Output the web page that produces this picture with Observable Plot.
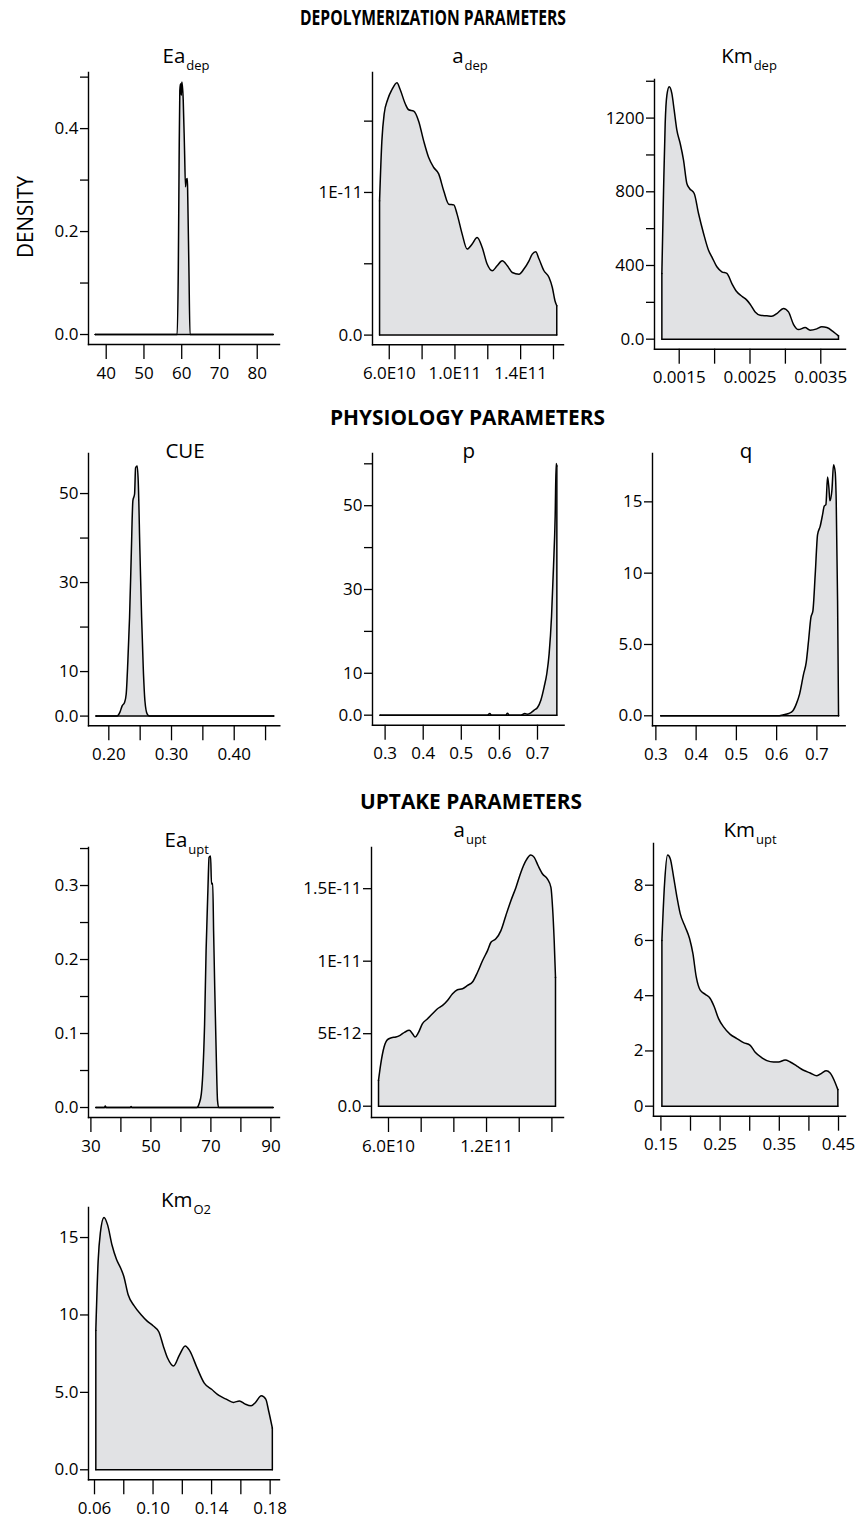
<!DOCTYPE html>
<html>
<head>
<meta charset="utf-8">
<script src="https://cdn.jsdelivr.net/npm/d3@7"></script>
<script src="https://cdn.jsdelivr.net/npm/@observablehq/plot@0.6"></script>
<style>
  body { margin: 0; background: #fff; }
  #root { position: relative; width: 864px; height: 1519px; overflow: hidden; font-family: "Open Sans", sans-serif; }
  #root svg.panel { position: absolute; overflow: visible; }
  #overlay { position: absolute; left: 0; top: 0; pointer-events: none; }
</style>
</head>
<body>
<div id="root"></div>
<script>
// ---------------- DATA ----------------
// Ea_dep
const eaDepX = [37.1, 58.8, 59.1, 59.3, 59.5, 59.7, 59.9, 60.0, 60.1, 60.4, 60.75, 61.0, 61.2, 61.5, 61.6, 61.9, 62.2, 84.2];
const eaDepY = [0, 0, 0.13, 0.325, 0.474, 0.487, 0.465, 0.49, 0.49, 0.455, 0.358, 0.287, 0.30, 0.303, 0.267, 0.131, 0, 0];
const eaDepXTicks = [40, 50, 60, 70, 80];
const eaDepXLabels = ["40", "50", "60", "70", "80"];
const eaDepYTicks = [0, 0.1, 0.2, 0.3, 0.4, 0.5];
const eaDepYLabels = ["0.0", "", "0.2", "", "0.4", ""];

// a_dep
const aDepX = [5.41e10, 5.55e10, 5.69e10, 5.90e10, 6.16e10, 6.47e10, 6.67e10, 6.98e10, 7.18e10, 7.49e10, 7.79e10, 8.10e10, 8.40e10, 8.71e10, 9.01e10, 9.32e10, 9.62e10, 9.93e10, 10.13e10, 10.44e10, 10.74e10, 11.05e10, 11.35e10, 11.66e10, 11.96e10, 12.27e10, 12.57e10, 12.88e10, 13.19e10, 13.49e10, 13.90e10, 14.20e10, 14.51e10, 14.71e10, 14.92e10, 15.12e10, 15.42e10, 15.73e10, 15.93e10, 16.09e10, 16.20e10];
const aDepY = [9.41e-12, 13.6e-12, 15.5e-12, 16.5e-12, 17.2e-12, 17.7e-12, 17.2e-12, 16.2e-12, 15.8e-12, 15.7e-12, 15.0e-12, 13.6e-12, 12.45e-12, 11.75e-12, 11.3e-12, 10.1e-12, 9.18e-12, 9.13e-12, 8.48e-12, 7.08e-12, 6.03e-12, 6.38e-12, 6.84e-12, 6.14e-12, 4.98e-12, 4.51e-12, 4.86e-12, 5.21e-12, 4.86e-12, 4.39e-12, 4.27e-12, 4.63e-12, 5.21e-12, 5.68e-12, 5.84e-12, 5.33e-12, 4.51e-12, 4.04e-12, 3.34e-12, 2.41e-12, 2.06e-12];
const aDepXTicks = [6e10, 8e10, 1.0e11, 1.2e11, 1.4e11, 1.6e11];
const aDepXLabels = ["6.0E10", "", "1.0E11", "", "1.4E11", ""];
const aDepYTicks = [0, 5e-12, 1e-11, 1.5e-11];
const aDepYLabels = ["0.0", "", "1E-11", ""];

// Km_dep
const kmDepX = [0.001255, 0.001279, 0.001302, 0.001326, 0.001359, 0.001396, 0.001429, 0.001467, 0.001514, 0.001561, 0.001608, 0.001646, 0.001712, 0.001773, 0.001844, 0.001914, 0.001961, 0.002032, 0.002102, 0.002173, 0.002244, 0.002314, 0.002385, 0.002455, 0.002502, 0.002573, 0.002644, 0.002738, 0.002808, 0.002879, 0.002973, 0.003044, 0.003114, 0.003185, 0.003279, 0.003349, 0.003444, 0.003514, 0.003585, 0.003679, 0.003750];
const kmDepY = [357, 809, 1171, 1325, 1370, 1334, 1243, 1135, 1062, 972, 845, 818, 791, 682, 574, 483, 447, 393, 366, 357, 302, 257, 233, 212, 190, 148, 130, 127, 125, 139, 167, 148, 81, 52, 63, 49, 56, 67, 63, 40, 18];
const kmDepXTicks = [0.0015, 0.0020, 0.0025, 0.0030, 0.0035];
const kmDepXLabels = ["0.0015", "", "0.0025", "", "0.0035"];
const kmDepYTicks = [0, 200, 400, 600, 800, 1000, 1200, 1400];
const kmDepYLabels = ["0.0", "", "400", "", "800", "", "1200", ""];

// CUE
const cueX = [0.1797, 0.2133, 0.2176, 0.2213, 0.2251, 0.2277, 0.2304, 0.2331, 0.2357, 0.2384, 0.2411, 0.2427, 0.2453, 0.2469, 0.2496, 0.2523, 0.2549, 0.2576, 0.2613, 0.265, 0.4629];
const cueY = [0, 0, 0.82, 2.3, 3.07, 4.9, 12.4, 22.2, 35.6, 48.4, 49.9, 55.8, 56.2, 52.8, 37.1, 22.2, 10.9, 3.4, 0.45, 0, 0];
const cueXTicks = [0.20, 0.25, 0.30, 0.35, 0.40, 0.45];
const cueXLabels = ["0.20", "", "0.30", "", "0.40", ""];
const cueYTicks = [0, 10, 20, 30, 40, 50];
const cueYLabels = ["0.0", "10", "", "30", "", "50"];

// p
const pX = [0.2869, 0.5687, 0.5748, 0.5792, 0.6169, 0.6212, 0.6256, 0.6562, 0.6667, 0.6737, 0.6825, 0.6912, 0.7, 0.7088, 0.7175, 0.7245, 0.7306, 0.7368, 0.742, 0.7464, 0.749, 0.7508];
const pY = [0, 0, 0.4, 0, 0, 0.48, 0, 0, 0.4, 0.24, 0.56, 1.2, 1.83, 3.58, 6.77, 9.95, 14.7, 23.5, 35.4, 47.4, 60.1, 59.5];
const pXTicks = [0.3, 0.4, 0.5, 0.6, 0.7];
const pXLabels = ["0.3", "0.4", "0.5", "0.6", "0.7"];
const pYTicks = [0, 10, 20, 30, 40, 50, 60];
const pYLabels = ["0.0", "10", "", "30", "", "50", ""];

// q
const qX = [0.3124, 0.6006, 0.6172, 0.6296, 0.6404, 0.6487, 0.657, 0.6669, 0.6735, 0.6793, 0.6851, 0.6901, 0.6959, 0.7017, 0.7083, 0.7141, 0.7182, 0.7224, 0.7265, 0.7298, 0.7323, 0.7373, 0.7414, 0.7456, 0.748, 0.7514, 0.7538];
const qY = [0, 0, 0.07, 0.16, 0.35, 0.82, 1.52, 2.92, 3.74, 5.26, 6.89, 7.36, 9.93, 12.7, 13.3, 14.1, 14.7, 14.8, 16.75, 16.0, 15.07, 15.8, 17.6, 17.05, 15.07, 8.06, 0];
const qXTicks = [0.3, 0.4, 0.5, 0.6, 0.7];
const qXLabels = ["0.3", "0.4", "0.5", "0.6", "0.7"];
const qYTicks = [0, 5, 10, 15];
const qYLabels = ["0.0", "5.0", "10", "15"];

// Ea_upt
const eaUptX = [31.67, 34.5, 34.8, 35.1, 43.1, 43.4, 43.7, 65.3, 66.1, 66.8, 67.3, 67.9, 68.4, 69.0, 69.4, 69.9, 70.2, 70.6, 70.9, 71.3, 71.8, 72.2, 72.6, 90.7];
const eaUptY = [0, 0, 0.002, 0, 0, 0.0013, 0, 0, 0.0054, 0.018, 0.046, 0.113, 0.212, 0.293, 0.338, 0.34, 0.302, 0.303, 0.239, 0.158, 0.068, 0.0099, 0, 0];
const eaUptXTicks = [30, 40, 50, 60, 70, 80, 90];
const eaUptXLabels = ["30", "", "50", "", "70", "", "90"];
const eaUptYTicks = [0, 0.05, 0.1, 0.15, 0.2, 0.25, 0.3, 0.35];
const eaUptYLabels = ["0.0", "", "0.1", "", "0.2", "", "0.3", ""];

// a_upt
const aUptX = [5.39e10, 5.53e10, 5.73e10, 5.94e10, 6.18e10, 6.45e10, 6.71e10, 7.0e10, 7.27e10, 7.47e10, 7.63e10, 7.82e10, 8.08e10, 8.39e10, 8.69e10, 9.0e10, 9.31e10, 9.61e10, 9.92e10, 10.22e10, 10.53e10, 10.84e10, 11.14e10, 11.45e10, 11.76e10, 12.06e10, 12.27e10, 12.57e10, 12.88e10, 13.18e10, 13.49e10, 13.80e10, 14.10e10, 14.41e10, 14.71e10, 14.92e10, 15.16e10, 15.43e10, 15.73e10, 15.94e10, 16.04e10, 16.14e10, 16.22e10];
const aUptY = [1.79e-12, 2.94e-12, 4.08e-12, 4.59e-12, 4.72e-12, 4.77e-12, 4.89e-12, 5.11e-12, 5.23e-12, 5.0e-12, 4.77e-12, 5.05e-12, 5.69e-12, 6.03e-12, 6.38e-12, 6.72e-12, 6.95e-12, 7.29e-12, 7.75e-12, 8.03e-12, 8.10e-12, 8.33e-12, 8.56e-12, 9.24e-12, 10.05e-12, 10.73e-12, 11.31e-12, 11.54e-12, 12.11e-12, 13.14e-12, 14.17e-12, 15.09e-12, 16.12e-12, 16.93e-12, 17.32e-12, 17.16e-12, 16.58e-12, 16.01e-12, 15.66e-12, 15.09e-12, 13.72e-12, 11.42e-12, 8.9e-12];
const aUptXTicks = [6e10, 8e10, 1.0e11, 1.2e11, 1.4e11, 1.6e11];
const aUptXLabels = ["6.0E10", "", "", "1.2E11", "", ""];
const aUptYTicks = [0, 5e-12, 1e-11, 1.5e-11];
const aUptYLabels = ["0.0", "5E-12", "1E-11", "1.5E-11"];

// Km_upt
const kmUptX = [0.1517, 0.1562, 0.1613, 0.1658, 0.1714, 0.177, 0.1826, 0.1911, 0.1984, 0.204, 0.2097, 0.2164, 0.2249, 0.2333, 0.2401, 0.2474, 0.2558, 0.2671, 0.2783, 0.2896, 0.3009, 0.3093, 0.3206, 0.329, 0.3403, 0.3487, 0.36, 0.3684, 0.3797, 0.3909, 0.4022, 0.4134, 0.4219, 0.4292, 0.4359, 0.4444, 0.4489];
const kmUptY = [6.0, 8.06, 9.09, 8.96, 8.3, 7.58, 6.97, 6.49, 6.07, 5.53, 4.68, 4.2, 4.05, 3.9, 3.6, 3.17, 2.87, 2.6, 2.45, 2.3, 2.2, 1.95, 1.75, 1.65, 1.6, 1.6, 1.67, 1.6, 1.45, 1.3, 1.2, 1.1, 1.2, 1.28, 1.2, 0.85, 0.6];
const kmUptXTicks = [0.15, 0.20, 0.25, 0.30, 0.35, 0.40, 0.45];
const kmUptXLabels = ["0.15", "", "0.25", "", "0.35", "", "0.45"];
const kmUptYTicks = [0, 2, 4, 6, 8];
const kmUptYLabels = ["0", "2", "4", "6", "8"];

// Km_O2
const kmO2X = [0.0609, 0.0625, 0.064, 0.0665, 0.069, 0.072, 0.075, 0.078, 0.08, 0.083, 0.087, 0.092, 0.096, 0.1, 0.104, 0.107, 0.11, 0.114, 0.118, 0.122, 0.125, 0.13, 0.135, 0.14, 0.145, 0.15, 0.155, 0.159, 0.163, 0.167, 0.17, 0.174, 0.177, 0.179, 0.1815];
const kmO2Y = [9.0, 13.5, 15.3, 16.3, 15.8, 14.5, 13.6, 13.0, 12.5, 11.3, 10.6, 10.0, 9.6, 9.3, 8.9, 8.0, 7.2, 6.7, 7.4, 8.0, 7.7, 6.6, 5.6, 5.2, 4.8, 4.56, 4.35, 4.45, 4.24, 4.13, 4.35, 4.78, 4.56, 3.8, 2.7];
const kmO2XTicks = [0.06, 0.08, 0.10, 0.12, 0.14, 0.16, 0.18];
const kmO2XLabels = ["0.06", "", "0.10", "", "0.14", "", "0.18"];
const kmO2YTicks = [0, 5, 10, 15];
const kmO2YLabels = ["0.0", "5.0", "10", "15"];

// Section headings and panel titles
const sections = ["DEPOLYMERIZATION PARAMETERS", "PHYSIOLOGY PARAMETERS", "UPTAKE PARAMETERS"];
const titleMain = ["Ea", "a", "Km", "CUE", "p", "q", "Ea", "a", "Km", "Km"];
const titleSub  = ["dep", "dep", "dep", "", "", "", "upt", "upt", "upt", "O2"];

// ---------------- LAYOUT ----------------
const FILL = "#e1e2e4";
const FONT = "'Open Sans', sans-serif";
const ML = 70, MR = 8, MT = 8, MB = 46;

const panels = [
  {x: eaDepX, y: eaDepY, xt: eaDepXTicks, xl: eaDepXLabels, yt: eaDepYTicks, yl: eaDepYLabels,
   L: 88, T: 72, B: 344, R: 279, xd: [35.31, 85.9], yd: [-0.0194, 0.509], tx: 186, ty: 62.5},
  {x: aDepX, y: aDepY, xt: aDepXTicks, xl: aDepXLabels, yt: aDepYTicks, yl: aDepYLabels,
   L: 372.3, T: 71.7, B: 344, R: 563.3, xd: [4.98e10, 1.661e11], yd: [-6.8e-13, 1.841e-11], tx: 470, ty: 62.5},
  {x: kmDepX, y: kmDepY, xt: kmDepXTicks, xl: kmDepXLabels, yt: kmDepYTicks, yl: kmDepYLabels,
   L: 654.3, T: 79.3, B: 349, R: 845.3, xd: [0.001151, 0.003849], yd: [-54.3, 1409.5], tx: 749, ty: 62.5},
  {x: cueX, y: cueY, xt: cueXTicks, xl: cueXLabels, yt: cueYTicks, yl: cueYLabels,
   L: 88, T: 452.7, B: 725, R: 279.3, xd: [0.1676, 0.4727], yd: [-2.18, 59.0], tx: 185, ty: 458},
  {x: pX, y: pY, xt: pXTicks, xl: pXLabels, yt: pYTicks, yl: pYLabels,
   L: 371.7, T: 453.3, B: 725, R: 563.3, xd: [0.2669, 0.7698], yd: [-2.39, 62.46], tx: 468.7, ty: 458},
  {x: qX, y: qY, xt: qXTicks, xl: qXLabels, yt: qYTicks, yl: qYLabels,
   L: 652.3, T: 452.7, B: 725, R: 845, xd: [0.2916, 0.7703], yd: [-0.70, 18.39], tx: 746, ty: 458},
  {x: eaUptX, y: eaUptY, xt: eaUptXTicks, xl: eaUptXLabels, yt: eaUptYTicks, yl: eaUptYLabels,
   L: 88.3, T: 847.3, B: 1117.3, R: 279.3, xd: [29.2, 92.87], yd: [-0.0135, 0.3514], tx: 186.7, ty: 846.5},
  {x: aUptX, y: aUptY, xt: aUptXTicks, xl: aUptXLabels, yt: aUptYTicks, yl: aUptYLabels,
   L: 370.7, T: 847.3, B: 1117.3, R: 562.7, xd: [4.96e10, 1.671e11], yd: [-7.79e-13, 1.784e-11], tx: 470, ty: 837},
  {x: kmUptX, y: kmUptY, xt: kmUptXTicks, xl: kmUptXLabels, yt: kmUptYTicks, yl: kmUptYLabels,
   L: 653.3, T: 843.3, B: 1116, R: 845.3, xd: [0.1375, 0.4618], yd: [-0.362, 9.51], tx: 750, ty: 837},
  {x: kmO2X, y: kmO2Y, xt: kmO2XTicks, xl: kmO2XLabels, yt: kmO2YTicks, yl: kmO2YLabels,
   L: 88.3, T: 1206.7, B: 1479, R: 279.3, xd: [0.0559, 0.1864], yd: [-0.646, 16.94], tx: 186, ty: 1207}
];

const root = document.getElementById("root");

function labelFormat(ticks, labels) {
  const m = new Map(ticks.map((t, i) => [t, labels[i]]));
  return d => m.get(d) ?? "";
}

panels.forEach((p) => {
  const pts = p.x.map((x, i) => ({x, y: p.y[i]}));
  const n = pts.length;
  // vertical end edges and the baseline of the closed density outline
  const edges = [
    {x: pts[0].x, y: 0, g: 0}, {x: pts[0].x, y: pts[0].y, g: 0},
    {x: pts[n - 1].x, y: pts[n - 1].y, g: 1}, {x: pts[n - 1].x, y: 0, g: 1},
    {x: pts[0].x, y: 0, g: 2}, {x: pts[n - 1].x, y: 0, g: 2}
  ];
  const width = ML + (p.R - p.L) + MR;
  const height = MT + (p.B - p.T) + MB;
  const svg = Plot.plot({
    width, height,
    marginLeft: ML, marginRight: MR, marginTop: MT, marginBottom: MB,
    x: {domain: p.xd},
    y: {domain: p.yd},
    style: {fontFamily: FONT, fontSize: "17px", color: "black", background: "transparent", overflow: "visible"},
    marks: [
      Plot.areaY(pts, {x: "x", y: "y", fill: FILL, curve: "monotone-x"}),
      Plot.line(pts, {x: "x", y: "y", stroke: "black", strokeWidth: 1.5, strokeLinejoin: "round", curve: "monotone-x"}),
      Plot.line(edges, {x: "x", y: "y", z: "g", stroke: "black", strokeWidth: 1.5, strokeLinecap: "round"}),
      Plot.frame({anchor: "left", stroke: "black", strokeWidth: 1.4}),
      Plot.frame({anchor: "bottom", stroke: "black", strokeWidth: 1.4}),
      Plot.axisY({ticks: p.yt, tickFormat: labelFormat(p.yt, p.yl), tickSize: 8, tickPadding: 2, strokeWidth: 1.3, label: null}),
      Plot.axisX({ticks: p.xt, tickFormat: labelFormat(p.xt, p.xl), tickSize: 15, tickPadding: 7, strokeWidth: 1.3, label: null})
    ]
  });
  svg.classList.add("panel");
  svg.style.left = (p.L - ML) + "px";
  svg.style.top = (p.T - MT) + "px";
  root.appendChild(svg);
});

// ---------------- TEXT OVERLAY ----------------
const NS = "http://www.w3.org/2000/svg";
const ov = document.createElementNS(NS, "svg");
ov.setAttribute("id", "overlay");
ov.setAttribute("width", 864);
ov.setAttribute("height", 1519);
root.appendChild(ov);

function addText(str, x, y, attrs) {
  const t = document.createElementNS(NS, "text");
  t.setAttribute("x", x);
  t.setAttribute("y", y);
  for (const k in attrs) t.setAttribute(k, attrs[k]);
  t.textContent = str;
  ov.appendChild(t);
  return t;
}

const secPos = [[300, 25, 266], [330, 425, 275], [360, 808.5, 222]];
sections.forEach((s, i) => {
  const [x, y, w] = secPos[i];
  addText(s, x, y, {"font-family": FONT, "font-size": 21, "font-weight": "bold", fill: "black",
    textLength: w, lengthAdjust: "spacingAndGlyphs"});
});

addText("DENSITY", 0, 0, {"font-family": FONT, "font-size": 22, fill: "black", "text-anchor": "middle",
  transform: "translate(33,217) rotate(-90)", textLength: 82, lengthAdjust: "spacingAndGlyphs"});

panels.forEach((p, i) => {
  const t = document.createElementNS(NS, "text");
  t.setAttribute("x", p.tx);
  t.setAttribute("y", p.ty);
  t.setAttribute("text-anchor", "middle");
  t.setAttribute("font-family", FONT);
  t.setAttribute("font-size", 20.5);
  t.setAttribute("fill", "black");
  const a = document.createElementNS(NS, "tspan");
  a.textContent = titleMain[i];
  t.appendChild(a);
  if (titleSub[i]) {
    const b = document.createElementNS(NS, "tspan");
    b.setAttribute("font-size", 13);
    b.setAttribute("dy", 7);
    b.setAttribute("dx", 1);
    b.textContent = titleSub[i];
    t.appendChild(b);
  }
  ov.appendChild(t);
});
</script>
</body>
</html>
